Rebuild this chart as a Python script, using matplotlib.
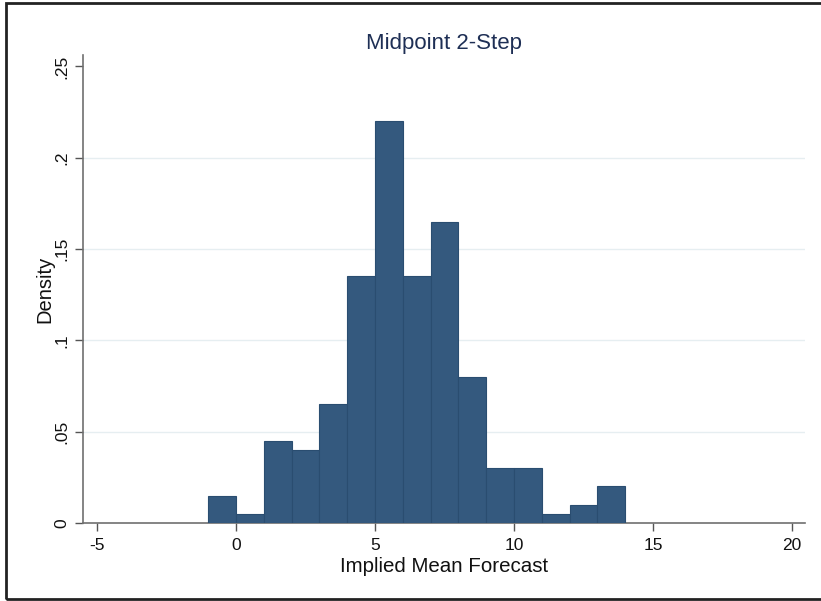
import matplotlib.pyplot as plt
from matplotlib.patches import Rectangle

# histogram bins (width 1) and densities
bin_left = [-1, 0, 1, 2, 3, 4, 5, 6, 7, 8, 9, 10, 11, 12, 13]
density = [0.015, 0.005, 0.045, 0.04, 0.065, 0.135, 0.22, 0.135, 0.165,
           0.08, 0.03, 0.03, 0.005, 0.01, 0.02]
xticks = [-5, 0, 5, 10, 15, 20]
yticks = [0, 0.05, 0.1, 0.15, 0.2, 0.25]
ytick_labels = ["0", ".05", ".1", ".15", ".2", ".25"]

plt.rcParams['font.family'] = ['Liberation Sans', 'DejaVu Sans']
plt.rcParams['axes.unicode_minus'] = False

fig = plt.figure(figsize=(8.21, 6.01), dpi=100)
ax = fig.add_axes([0.1011, 0.1298, 0.8794, 0.7787])

ax.bar(bin_left, density, width=1, align='edge', color='#34597e',
       edgecolor='#2a4d70', linewidth=0.8, zorder=3)

ax.set_xlim(-5.5, 20.47)
ax.set_ylim(0, 0.2563)
ax.set_xticks(xticks)
ax.set_yticks(yticks)
ax.set_yticklabels(ytick_labels, rotation=90, va='center')
ax.tick_params(axis='both', length=6, width=1, color='#555555',
               labelsize=12.5, labelcolor='#111111')
ax.tick_params(axis='x', pad=5)

# light horizontal grid
for y in yticks[1:-1]:
    ax.axhline(y, color='#e6eef1', lw=1, zorder=1)

for side in ['top', 'right']:
    ax.spines[side].set_visible(False)
for side in ['left', 'bottom']:
    ax.spines[side].set_color('#707070')
    ax.spines[side].set_linewidth(1.2)

ax.set_title("Midpoint 2-Step", fontsize=16, color='#1e2f55', pad=4)
ax.set_xlabel("Implied Mean Forecast", fontsize=14.8, color='#111111', labelpad=3)
ax.set_ylabel("Density", fontsize=14.5, color='#111111', labelpad=0)

# outer frame
fig.patches.append(Rectangle((6 / 821, 2 / 601), 1.0, 596 / 601,
                             transform=fig.transFigure, fill=False,
                             edgecolor='#222222', lw=2))

plt.savefig("out.png")
